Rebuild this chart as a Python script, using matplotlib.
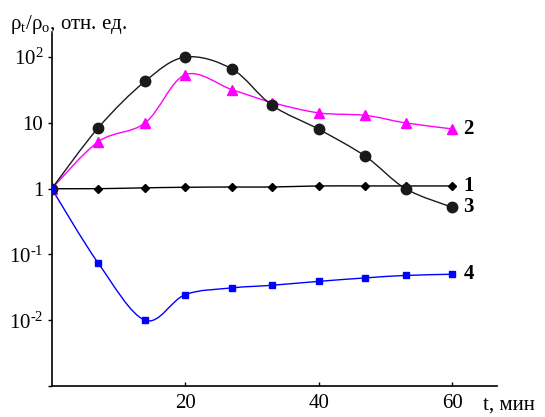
import numpy as np
import matplotlib
matplotlib.use("Agg")
import matplotlib.pyplot as plt
from matplotlib.path import Path
from matplotlib.patches import PathPatch
from matplotlib.ticker import FixedLocator, FixedFormatter

plt.rcParams['font.family'] = ['Liberation Serif', 'DejaVu Serif']
plt.rcParams['mathtext.fontset'] = 'custom'
plt.rcParams['mathtext.rm'] = 'Liberation Serif'

# --- data: relative resistivity vs time ---
t_min = [0, 7, 14, 20, 27, 33, 40, 47, 53, 60]
rho_1 = [1.0, 1.0, 1.03, 1.05, 1.06, 1.06, 1.1, 1.1, 1.1, 1.1]
rho_2 = [1.0, 5.2, 10.0, 54.0, 32.0, 20.4, 14.2, 13.0, 10.0, 8.1]
rho_3 = [1.0, 8.5, 43.0, 100.0, 66.0, 18.5, 8.0, 3.1, 1.0, 0.52]
rho_4 = [1.0, 0.073, 0.010, 0.0245, 0.031, 0.034, 0.039, 0.044, 0.048, 0.050]

y_ticks = [1e-3, 1e-2, 1e-1, 1, 10, 100]
y_tick_labels = ['', r'$\mathregular{10^{\text{-}2}}$', r'$\mathregular{10^{\text{-}1}}$', '1', '10',
                 r'$\mathregular{10^{2}}$']
x_ticks = [20, 40, 60]


def smooth_path(x, y):
    """Catmull-Rom style bezier through the points, built in log-y space."""
    lx = np.asarray(x, float)
    ly = np.log10(np.asarray(y, float))
    n = len(lx)
    verts = [(lx[0], ly[0])]
    codes = [Path.MOVETO]
    for i in range(n - 1):
        a = max(i - 1, 0)
        b = min(i + 2, n - 1)
        c1 = (lx[i] + (lx[i + 1] - lx[a]) / 6, ly[i] + (ly[i + 1] - ly[a]) / 6)
        c2 = (lx[i + 1] - (lx[b] - lx[i]) / 6, ly[i + 1] - (ly[b] - ly[i]) / 6)
        verts += [c1, c2, (lx[i + 1], ly[i + 1])]
        codes += [Path.CURVE4] * 3
    verts = [(vx, 10 ** vy) for vx, vy in verts]
    return Path(verts, codes)


fig = plt.figure(figsize=(5.45, 4.17), dpi=100)
ax = fig.add_axes([0.0949, 0.0743, 0.817, 0.847])
ax.set_yscale('log')

series = [
    (rho_1, '#000000', 'D', 4.5, '1'),
    (rho_2, '#ff00ff', '^', 7, '2'),
    (rho_3, '#1a1a1a', 'o', 7.5, '3'),
    (rho_4, '#0000ff', 's', 4.5, '4'),
]

for vals, col, mk, ms, name in series:
    ax.add_patch(PathPatch(smooth_path(t_min, vals), fill=False,
                           edgecolor=col, lw=1.0, zorder=2))
    ax.plot(t_min, vals, linestyle='none', marker=mk, ms=ms,
            color=col, mec=col, zorder=3)
    ax.annotate(name, xy=(t_min[-1], vals[-1]), xytext=(8, 0),
                textcoords='offset points', ha='left', va='center',
                fontsize=15, fontweight='bold')

ax.set_xlim(0, 66.7)
ax.set_ylim(1e-3, 234)

ax.yaxis.set_major_locator(FixedLocator(y_ticks))
ax.yaxis.set_major_formatter(FixedFormatter(y_tick_labels))
ax.yaxis.set_minor_locator(FixedLocator([]))
ax.set_xticks(x_ticks)

ax.spines['top'].set_visible(False)
ax.spines['right'].set_visible(False)
ax.spines['left'].set_linewidth(1.2)
ax.spines['bottom'].set_linewidth(1.2)
ax.tick_params(axis='y', direction='out', length=3, width=1, pad=3, labelsize=15)
ax.tick_params(axis='x', direction='in', length=3, width=1, pad=6, labelsize=15)

fig.text(10 / 545, 1 - 25 / 417,
         r'ρ$_\mathregular{t}$/ρ$_\mathregular{o}$, отн. ед.',
         ha='left', va='center', fontsize=15)
fig.text(483 / 545, 1 - 405 / 417, 't, мин', ha='left', va='center', fontsize=15)

fig.savefig('out.png', dpi=100)
